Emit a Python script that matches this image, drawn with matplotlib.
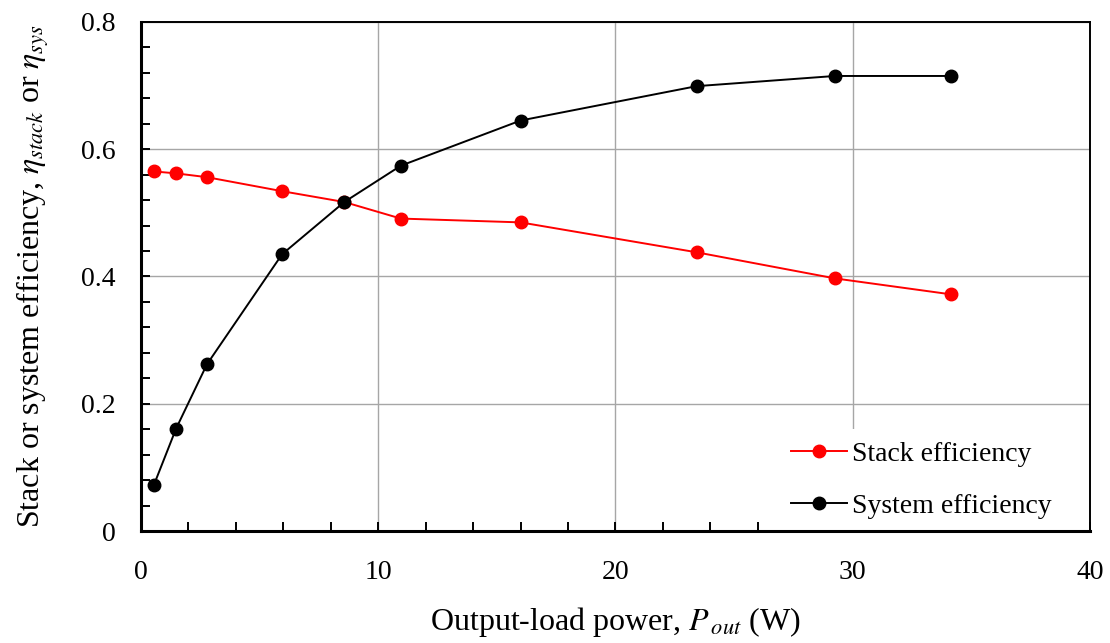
import numpy as np
import matplotlib.pyplot as plt
from matplotlib.ticker import MultipleLocator

# -----------------------------
# DATA
# -----------------------------
power_out = [0.55, 1.48, 2.78, 5.95, 8.57, 10.95, 16.0, 23.42, 29.25, 34.13]
stack_eff = [0.565, 0.562, 0.556, 0.534, 0.517, 0.491, 0.485, 0.438, 0.397, 0.372]
system_eff = [0.073, 0.161, 0.262, 0.435, 0.517, 0.574, 0.645, 0.699, 0.715, 0.715]

x_ticks = [0, 10, 20, 30, 40]
y_ticks = [0, 0.2, 0.4, 0.6, 0.8]
y_tick_labels = ["0", "0.2", "0.4", "0.6", "0.8"]

plt.rcParams["font.family"] = ["Liberation Serif", "DejaVu Serif"]
plt.rcParams["mathtext.fontset"] = "stix"

fig = plt.figure(figsize=(11.1, 6.43), dpi=100)
ax = fig.add_axes([0.127, 0.174, 0.855, 0.792])

ax.plot(power_out, stack_eff, color="red", lw=1.4, marker="o", ms=9,
        label="Stack efficiency", zorder=3)
ax.plot(power_out, system_eff, color="black", lw=1.4, marker="o", ms=9,
        label="System efficiency", zorder=4)

ax.set_xlim(0, 40)
ax.set_ylim(0, 0.8)
ax.set_xticks(x_ticks)
ax.set_yticks(y_ticks)
ax.set_yticklabels(y_tick_labels)
ax.xaxis.set_minor_locator(MultipleLocator(2))
ax.yaxis.set_minor_locator(MultipleLocator(0.04))

# inward ticks, left/bottom only
ax.tick_params(which="both", direction="in", top=False, right=False,
               labelsize=20, width=1.4, length=6.5, pad=18)
ax.tick_params(axis="x", which="both", pad=21)

ax.grid(True, which="major", color="#a6a6a6", lw=1.0)
ax.set_axisbelow(True)

# frame stays on top of the legend box
for side in ["left", "bottom"]:
    ax.spines[side].set_linewidth(2.2)
for side in ["top", "right"]:
    ax.spines[side].set_linewidth(1.4)
for sp in ax.spines.values():
    sp.set_zorder(11)

ax.set_xlabel("Output-load power, $P_{\\,out}$ (W)", fontsize=23, labelpad=14)
ax.set_ylabel("Stack or system efficiency, $\\eta_{stack}$ or $\\eta_{sys}$",
              fontsize=23, labelpad=22)

leg = ax.legend(loc="lower right", bbox_to_anchor=(0.973, 0.0), fontsize=20,
                frameon=True, framealpha=1, edgecolor="none", fancybox=False,
                handlelength=2.0, handletextpad=0.2, labelspacing=0.95,
                borderpad=0.45, borderaxespad=0.0)
leg.set_zorder(10)

fig.savefig("out.png", dpi=100)
